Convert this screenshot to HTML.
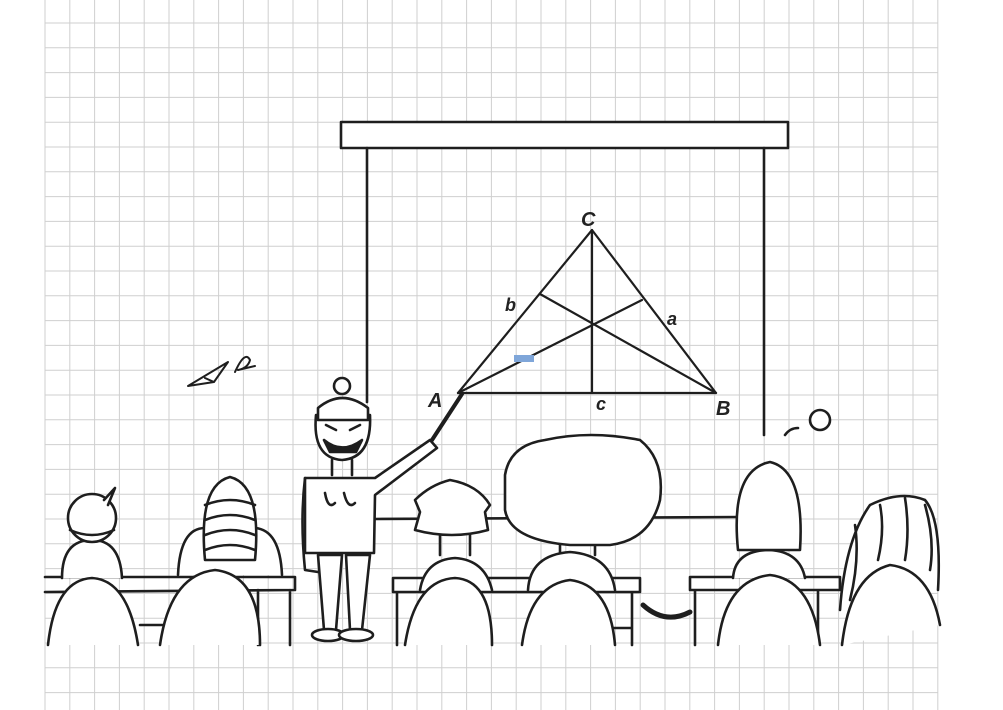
<!DOCTYPE html>
<html><head><meta charset="utf-8"><style>
html,body{margin:0;padding:0;background:#fff;}
svg{display:block;}
text{font-family:"Liberation Sans",sans-serif;font-style:italic;font-weight:bold;fill:#222;}
</style></head><body>
<svg width="1003" height="710" viewBox="0 0 1003 710">
<g id="grid" stroke="#cfcfcf" stroke-width="1"></g>
<g fill="none" stroke="#1e1e1e" stroke-width="2.6" stroke-linecap="round" stroke-linejoin="round">
  <rect x="341" y="122" width="447" height="26" fill="#fff"/>
  <line x1="367" y1="148" x2="367" y2="402"/>
  <line x1="764" y1="148" x2="764" y2="435"/>
  <line x1="375" y1="519" x2="740" y2="517"/>
  <g stroke-width="2.2">
    <polyline points="458,393 592,230 716,393 458,393"/>
    <line x1="592" y1="230" x2="592" y2="393"/>
    <line x1="458" y1="393" x2="642" y2="300"/>
    <line x1="716" y1="393" x2="540" y2="294"/>
  </g>
  <g stroke-width="2">
    <path d="M188,386 L228,362 L214,382 Z M214,382 L205,378"/>
    <path d="M235,372 Q245,350 250,360 Q248,368 238,370 L255,366"/>
  </g>
  <g fill="#fff">
    <circle cx="342" cy="386" r="8"/>
    <path d="M316,415 Q312,458 342,460 Q372,458 370,415 Z"/>
    <path d="M318,408 Q342,388 368,408 L368,420 L318,420 Z"/>
    <path d="M324,440 Q342,455 362,440 L356,452 L330,452 Z" fill="#1e1e1e"/>
    <path d="M326,425 L336,430 M360,425 L350,430"/>
    <path d="M332,460 L332,475 M352,460 L352,475"/>
    <path d="M318,555 L324,630 L336,630 L342,555 Z M346,555 L350,630 L362,630 L370,555 Z"/>
    <path d="M305,478 L375,478 L430,440 L437,448 L375,495 L374,553 L305,553 Z"/>
    <path d="M305,478 Q300,520 305,570 L318,572" fill="none"/>
    <path d="M325,493 Q328,510 335,503 M344,493 Q348,510 355,503" fill="none"/>
    <ellipse cx="328" cy="635" rx="16" ry="6"/>
    <ellipse cx="356" cy="635" rx="17" ry="6"/>
    <line x1="432" y1="440" x2="462" y2="394" stroke-width="4"/>
  </g>
  <g>
    <path d="M45,577 L295,577 L295,590 L45,592 M258,590 L258,645 M290,590 L290,645 M140,625 L258,625"/>
  </g>
  <g>
    <path d="M393,578 L640,578 L640,592 L393,592 Z M397,592 L397,645 M632,592 L632,645 M605,628 L632,628"/>
  </g>
  <g>
    <path d="M690,577 L840,577 L840,590 L690,590 Z M695,590 L695,645 M818,590 L818,640"/>
  </g>
  <path d="M643,605 Q665,625 690,612" stroke-width="5"/>
  <g fill="#fff">
    <path d="M62,578 Q62,540 92,540 Q120,540 122,578"/>
    <circle cx="92" cy="518" r="24"/>
    <path d="M104,500 L115,488 L108,505"/>
    <path d="M70,530 Q92,540 114,530" fill="none"/>
    <path d="M48,645 Q55,580 92,578 Q128,580 138,645"/>
  </g>
  <g fill="#fff">
    <path d="M178,575 Q180,528 205,528 L255,528 Q280,530 282,575"/>
    <path d="M205,560 Q198,485 230,477 Q262,485 255,560 Z"/>
    <path d="M205,505 Q230,495 255,505 M205,520 Q230,510 255,520 M205,535 Q230,525 255,535 M205,550 Q230,540 255,550" fill="none"/>
    <path d="M160,645 Q170,575 215,570 Q260,575 260,645"/>
  </g>
  <g fill="#fff">
    <path d="M440,535 L440,555 M470,535 L470,555"/>
    <path d="M420,590 Q425,560 455,558 Q485,560 492,590"/>
    <path d="M415,500 Q430,485 450,480 Q478,485 490,505 L485,512 L488,530 Q452,540 415,530 L420,512 Z"/>
    <path d="M405,645 Q415,580 455,578 Q492,580 492,645"/>
  </g>
  <g fill="#fff">
    <path d="M560,545 L560,555 M595,545 L595,555"/>
    <path d="M528,590 Q530,555 570,552 Q610,555 615,590"/>
    <path d="M505,475 Q510,445 545,440 Q590,430 640,440 Q665,460 660,500 Q650,540 610,545 L570,545 Q510,540 505,510 Z"/>
    <path d="M522,645 Q530,585 570,580 Q610,585 615,645"/>
  </g>
  <g fill="#fff">
    <path d="M733,578 Q735,550 770,550 Q800,552 805,578"/>
    <path d="M738,550 Q730,470 770,462 Q805,470 800,550 Z"/>
    <path d="M718,645 Q725,580 770,575 Q812,580 820,645"/>
    <path d="M785,435 Q790,428 798,428" fill="none"/>
    <circle cx="820" cy="420" r="10"/>
  </g>
  <g>
    <path d="M840,610 Q845,540 870,505 Q900,490 925,500 Q942,520 938,590" fill="#fff"/>
    <path d="M855,525 Q860,560 850,600 M880,505 Q885,530 878,560 M905,498 Q910,530 905,560 M925,505 Q935,540 930,570"/>
    <path d="M842,645 Q850,575 890,565 Q930,570 940,625" fill="#fff"/>
  </g>
</g>
<g>
  <text x="581" y="226" font-size="20">C</text>
  <text x="505" y="311" font-size="18">b</text>
  <text x="667" y="325" font-size="18">a</text>
  <text x="428" y="407" font-size="20">A</text>
  <text x="596" y="410" font-size="18">c</text>
  <text x="716" y="415" font-size="20">B</text>
</g>
<rect x="514" y="355" width="20" height="7" fill="#7fa6d9"/>
</svg>
<script>
var g=document.getElementById('grid');var ns='http://www.w3.org/2000/svg';
for(var i=0;i<=36;i++){var x=45+i*24.8;var l=document.createElementNS(ns,'line');l.setAttribute('x1',x);l.setAttribute('x2',x);l.setAttribute('y1',0);l.setAttribute('y2',710);


g.appendChild(l);}
for(var j=0;j<29;j++){var y=23+j*24.8;var l2=document.createElementNS(ns,'line');l2.setAttribute('x1',45);l2.setAttribute('x2',938);l2.setAttribute('y1',y);l2.setAttribute('y2',y);


g.appendChild(l2);}
</script>
</body></html>
